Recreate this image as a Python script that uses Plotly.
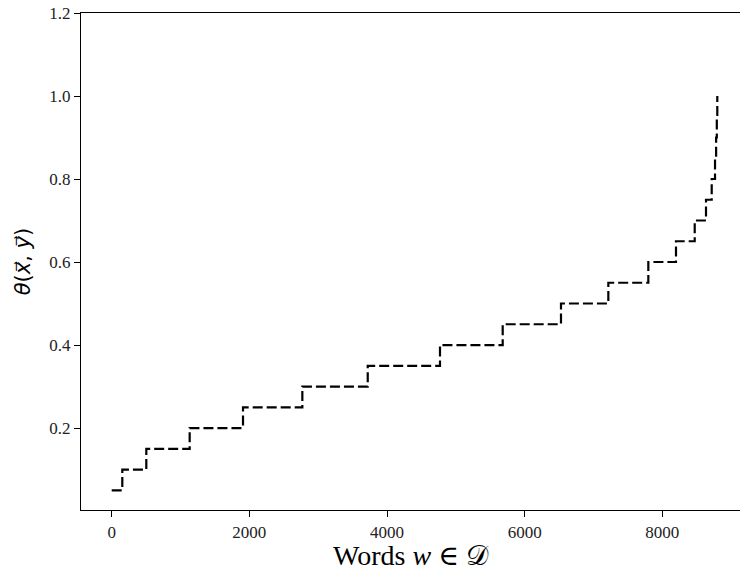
import plotly.graph_objects as go

# Sorted scores: word index where each score level begins
word_index = [0, 154, 503, 1133, 1908, 2770, 3720, 4770, 5681, 6528,
              7216, 7797, 8199, 8471, 8635, 8718, 8766, 8782, 8792, 8799]
theta = [0.05, 0.10, 0.15, 0.20, 0.25, 0.30, 0.35, 0.40, 0.45, 0.50,
         0.55, 0.60, 0.65, 0.70, 0.75, 0.80, 0.85, 0.90, 0.95, 1.00]

x_ticks = [0, 2000, 4000, 6000, 8000]
y_ticks = [0.2, 0.4, 0.6, 0.8, 1.0, 1.2]

serif = "Liberation Serif, DejaVu Serif, serif"

fig = go.Figure(
    go.Scatter(
        x=word_index,
        y=theta,
        mode="lines",
        line=dict(shape="hv", color="black", width=2.2, dash="10px,4px"),
        showlegend=False,
    )
)

fig.update_layout(
    width=740,
    height=571,
    margin=dict(l=81, r=0, t=13, b=61),
    paper_bgcolor="white",
    plot_bgcolor="white",
    font=dict(family=serif, color="black", size=17),
)

fig.update_xaxes(
    range=[-446, 9129],
    tickvals=x_ticks,
    tickformat="d",
    ticks="outside",
    ticklen=6,
    tickwidth=1.2,
    tickcolor="black",
    showline=True,
    linecolor="black",
    linewidth=1.4,
    mirror=True,
    showgrid=False,
    zeroline=False,
    tickfont=dict(family=serif, size=17, color="#222"),
    title=dict(text="Words <i>w</i> ∈ 𝒟", font=dict(family=serif, size=28), standoff=4),
)

# DejaVu Sans carries the combining vector arrows
fig.update_yaxes(
    range=[0.0025, 1.2],
    tickvals=y_ticks,
    tickformat=".1f",
    ticks="outside",
    ticklen=6,
    tickwidth=1.2,
    tickcolor="black",
    showline=True,
    linecolor="black",
    linewidth=1.4,
    mirror=False,
    showgrid=False,
    zeroline=False,
    tickfont=dict(family=serif, size=17, color="#222"),
    title=dict(
        text="<i>θ</i>(<i>x\u20d7</i>, <i>y\u20d7</i>)",
        font=dict(family="DejaVu Sans", size=21),
        standoff=12,
    ),
)

fig.write_html("out.html")
